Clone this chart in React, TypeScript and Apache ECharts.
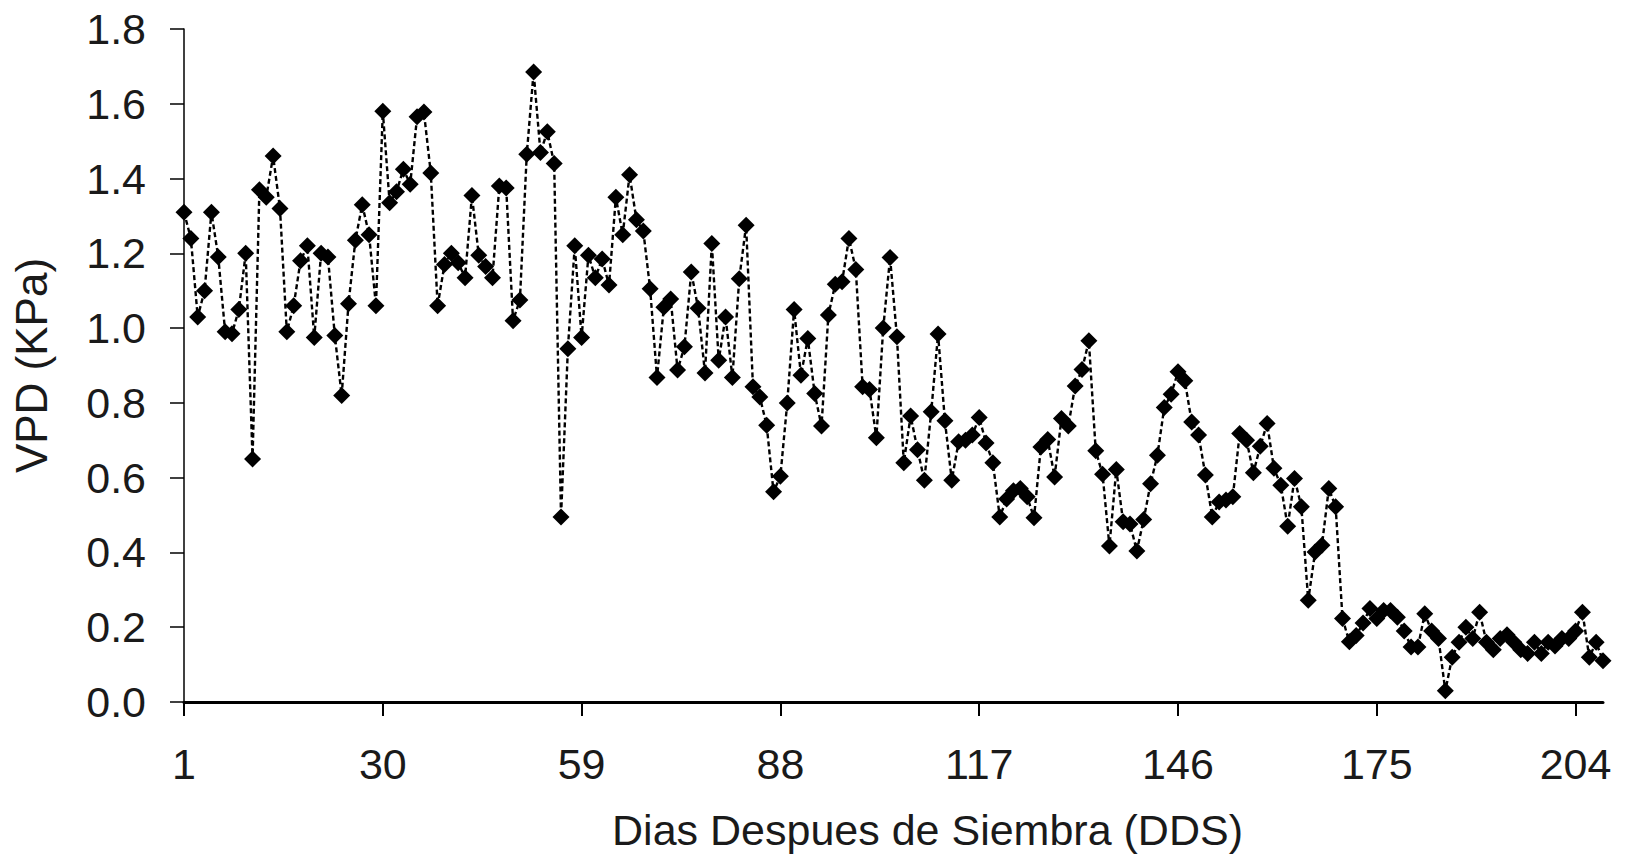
import React, { useEffect, useRef } from "react";
import * as echarts from "echarts";

const days: string[] = Array.from({ length: 208 }, (_, i) => String(i + 1));

const vpd: number[] = [
  1.31, 1.24, 1.03, 1.10, 1.31, 1.19, 0.99, 0.985, 1.05, 1.20,
  0.65, 1.37, 1.35, 1.46, 1.32, 0.99, 1.06, 1.18, 1.22, 0.975,
  1.20, 1.19, 0.98, 0.82, 1.065, 1.235, 1.33, 1.25, 1.06, 1.58,
  1.335, 1.365, 1.425, 1.385, 1.565, 1.578, 1.415, 1.06, 1.17, 1.20,
  1.175, 1.135, 1.355, 1.195, 1.165, 1.135, 1.38, 1.375, 1.02, 1.075,
  1.465, 1.685, 1.47, 1.525, 1.44, 0.495, 0.945, 1.22, 0.975, 1.195,
  1.135, 1.185, 1.115, 1.35, 1.25, 1.41, 1.29, 1.26, 1.105, 0.868,
  1.056, 1.078, 0.888, 0.95, 1.15, 1.053, 0.88, 1.226, 0.914, 1.03,
  0.868, 1.132, 1.275, 0.843, 0.816, 0.74, 0.562, 0.604, 0.80, 1.05,
  0.874, 0.972, 0.825, 0.738, 1.035, 1.117, 1.124, 1.24, 1.157, 0.843,
  0.836, 0.707, 1.0, 1.189, 0.977, 0.64, 0.765, 0.675, 0.593, 0.776,
  0.984, 0.752, 0.593, 0.696, 0.70, 0.714, 0.761, 0.693, 0.64, 0.495,
  0.543, 0.565, 0.571, 0.549, 0.493, 0.682, 0.702, 0.602, 0.758, 0.738,
  0.845, 0.889, 0.966, 0.672, 0.609, 0.417, 0.622, 0.482, 0.476, 0.404,
  0.488, 0.584, 0.66, 0.788, 0.823, 0.883, 0.859, 0.749, 0.714, 0.607,
  0.495, 0.535, 0.54, 0.549, 0.718, 0.70, 0.613, 0.684, 0.745, 0.625,
  0.58, 0.47, 0.598, 0.522, 0.272, 0.401, 0.419, 0.571, 0.522, 0.223,
  0.161, 0.178, 0.211, 0.25, 0.223, 0.245, 0.245, 0.227, 0.19, 0.147,
  0.147, 0.236, 0.19, 0.17, 0.03, 0.12, 0.16, 0.20, 0.17, 0.24,
  0.16, 0.14, 0.17, 0.18, 0.16, 0.14, 0.13, 0.16, 0.13, 0.16,
  0.15, 0.17, 0.17, 0.19, 0.24, 0.12, 0.16, 0.11,
];

const xTitle = "Dias Despues de Siembra (DDS)";
const yTitle = "VPD (KPa)";

export default function App() {
  const ref = useRef<HTMLDivElement>(null);

  useEffect(() => {
    if (!ref.current) return;
    const chart = echarts.init(ref.current, undefined, { renderer: "svg" });
    const font = "'Liberation Sans', Arial, sans-serif";
    chart.setOption({
      animation: false,
      backgroundColor: "#ffffff",
      grid: { left: 184, right: 27, top: 29, bottom: 159, containLabel: false },
      xAxis: {
        type: "category",
        data: days,
        boundaryGap: false,
        name: xTitle,
        nameLocation: "middle",
        nameGap: 106,
        nameTextStyle: { fontFamily: font, fontSize: 43, color: "#1a1a1a", padding: [0, 0, 0, 68] },
        axisLine: { lineStyle: { color: "#000", width: 3 } },
        axisTick: { show: true, interval: 28, length: 14, lineStyle: { color: "#000", width: 2 } },
        axisLabel: { interval: 28, margin: 40, fontFamily: font, fontSize: 43, color: "#1a1a1a" },
        splitLine: { show: false },
      },
      yAxis: {
        type: "value",
        min: 0,
        max: 1.8,
        interval: 0.2,
        name: yTitle,
        nameLocation: "middle",
        nameGap: 131,
        nameRotate: 90,
        nameTextStyle: { fontFamily: font, fontSize: 44, color: "#1a1a1a" },
        axisLine: { show: true, lineStyle: { color: "#000", width: 1.5 } },
        axisTick: { show: true, length: 14, lineStyle: { color: "#000", width: 1.5 } },
        axisLabel: {
          margin: 38,
          fontFamily: font,
          fontSize: 43,
          color: "#1a1a1a",
          formatter: (v: number) => v.toFixed(1),
        },
        splitLine: { show: false },
      },
      series: [
        {
          type: "line",
          data: vpd,
          symbol: "diamond",
          symbolSize: 17,
          showAllSymbol: true,
          itemStyle: { color: "#000" },
          lineStyle: { color: "#000", width: 2.4, type: [5, 3] },
        },
      ],
    });
    return () => chart.dispose();
  }, []);

  return (
    <div
      ref={ref}
      style={{ position: "fixed", left: 0, top: 0, width: 1630, height: 861, background: "#fff" }}
    />
  );
}
